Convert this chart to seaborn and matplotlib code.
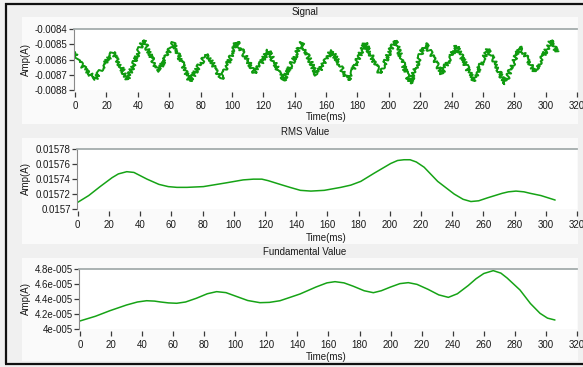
import matplotlib
matplotlib.use("Agg")
import matplotlib.pyplot as plt
from matplotlib.patches import Rectangle
from matplotlib.lines import Line2D
from matplotlib.ticker import FixedLocator, FixedFormatter
import pandas as pd
import seaborn as sns

# ---- data -------------------------------------------------------------
signal_t = [0, 1, 12.7, 24.0, 33.5, 43.5, 53.1, 62.7, 73.2, 83.9, 93.4, 103.0,
            114.7, 123.2, 132.8, 144.4, 154.0, 163.6, 174.2, 184.8, 194.4, 204.0,
            213.5, 223.1, 233.7, 243.2, 253.9, 263.4, 274.1, 283.6, 293.2, 303.8, 307.0]
signal_amp = [-0.00855, -0.00860, -0.00873, -0.00855, -0.00873, -0.00847, -0.00868,
              -0.00849, -0.00874, -0.00856, -0.00873, -0.00848, -0.00869, -0.00854,
              -0.00874, -0.00849, -0.00870, -0.00854, -0.00874, -0.00849, -0.00869,
              -0.00847, -0.00876, -0.00849, -0.00869, -0.00851, -0.00874, -0.00853,
              -0.00876, -0.00851, -0.00868, -0.00847, -0.00855]

rms_t = [0, 7, 14.3, 22, 26, 31.4, 36, 44.4, 52, 58, 63.5, 70, 80.5, 95, 106, 112.6,
         118, 122, 129.7, 136, 142.7, 149.4, 158, 168.6, 175, 181.4, 190, 200.6,
         205, 209.1, 213, 217, 222, 230.7, 241.3, 247, 252, 257, 262.7, 272, 276,
         280.9, 286, 290, 296.9, 306]
rms_amp = [0.015709, 0.015718, 0.015730, 0.015742, 0.015747, 0.015750, 0.015749,
           0.015740, 0.015733, 0.015730, 0.015729, 0.015729, 0.015730, 0.015735,
           0.015739, 0.015740, 0.015740, 0.015738, 0.015733, 0.015729, 0.015725,
           0.015724, 0.015725, 0.015729, 0.015732, 0.015737, 0.015748, 0.015761,
           0.015765, 0.015766, 0.015766, 0.015763, 0.015756, 0.015737, 0.015720,
           0.015713, 0.015710, 0.015711, 0.015715, 0.015721, 0.015723, 0.015724,
           0.015723, 0.015721, 0.015718, 0.015712]

fund_t = [0, 10, 19.3, 30, 37, 42.9, 48, 52, 57, 62.3, 68, 75, 82, 88, 94, 100,
          108, 115.9, 122, 128.8, 135, 141.7, 152, 159, 164.2, 170, 176, 183,
          188.9, 194, 200, 206, 211.4, 217, 224, 231, 237.2, 243, 250, 255, 260,
          266.1, 271, 275, 283.3, 290, 296.2, 301, 305.8]
fund_amp = [4.107e-5, 4.17e-5, 4.244e-5, 4.32e-5, 4.36e-5, 4.377e-5, 4.372e-5,
            4.36e-5, 4.348e-5, 4.343e-5, 4.36e-5, 4.41e-5, 4.47e-5, 4.498e-5,
            4.485e-5, 4.44e-5, 4.38e-5, 4.351e-5, 4.355e-5, 4.377e-5, 4.42e-5,
            4.467e-5, 4.56e-5, 4.615e-5, 4.631e-5, 4.615e-5, 4.57e-5, 4.51e-5,
            4.484e-5, 4.51e-5, 4.56e-5, 4.605e-5, 4.618e-5, 4.595e-5, 4.53e-5,
            4.455e-5, 4.422e-5, 4.47e-5, 4.58e-5, 4.67e-5, 4.74e-5, 4.778e-5,
            4.745e-5, 4.68e-5, 4.52e-5, 4.34e-5, 4.209e-5, 4.145e-5, 4.12e-5]

x_ticks = [0, 20, 40, 60, 80, 100, 120, 140, 160, 180, 200, 220, 240, 260, 280, 300, 320]

signal_ticks = [-0.0084, -0.0085, -0.0086, -0.0087, -0.0088]
signal_labels = ["-0.0084", "-0.0085", "-0.0086", "-0.0087", "-0.0088"]
rms_ticks = [0.01578, 0.01576, 0.01574, 0.01572, 0.0157]
rms_labels = ["0.01578", "0.01576", "0.01574", "0.01572", "0.0157"]
fund_ticks = [4.8e-5, 4.6e-5, 4.4e-5, 4.2e-5, 4.0e-5]
fund_labels = ["4.8e-005", "4.6e-005", "4.4e-005", "4.2e-005", "4e-005"]

titles = ["Signal", "RMS Value", "Fundamental Value"]

# ---- figure -----------------------------------------------------------
sns.set_style("white")
plt.rcParams["font.family"] = ["Liberation Sans", "DejaVu Sans"]
FS = 7.0
W, H = 583, 367
fig = plt.figure(figsize=(W / 100, H / 100), dpi=100, facecolor="#f0f0f0")


def px_rect(x0, y0, x1, y1, color):
    fig.patches.append(Rectangle((x0 / W, 1 - y1 / H), (x1 - x0) / W, (y1 - y0) / H,
                                 transform=fig.transFigure, facecolor=color,
                                 edgecolor="none", zorder=-10))


def px_line(xs, ys, color, lw):
    fig.lines.append(Line2D([x / W for x in xs], [1 - y / H for y in ys],
                            transform=fig.transFigure, color=color, lw=lw,
                            solid_capstyle="butt", zorder=5))


# panel bodies (lighter than the title strips)
px_rect(22, 17, 578, 124, "#fafafa")
px_rect(22, 138, 578, 244, "#fafafa")
px_rect(22, 258, 578, 361, "#fafafa")

# outer frame
px_line([5, 583], [3.5, 3.5], "#101010", 1.6)
px_line([5.5, 5.5], [3, 364], "#101010", 1.6)
px_line([5, 583], [363.5, 363.5], "#101010", 1.6)

# axes geometry in pixels: left spine x, value-axis top y, bottom y, xmin
geoms = [(73.5, 29.3, 90.0, -1.0), (77.0, 149.3, 209.0, -0.5), (79.0, 269.0, 329.0, -0.6)]
title_y = [12, 132, 252]
xlabel_y = [117, 238, 357]
series = [(signal_t, signal_amp, signal_ticks, signal_labels, 1.4),
          (rms_t, rms_amp, rms_ticks, rms_labels, 1.1),
          (fund_t, fund_amp, fund_ticks, fund_labels, 1.1)]

for i, ((lx, ty, by, xmin), (t, amp, yt, yl, lw)) in enumerate(zip(geoms, series)):
    ax = fig.add_axes([lx / W, 1 - by / H, (577 - lx) / W, (by - ty) / H])
    ax.set_zorder(1)
    ax.set_facecolor("white")
    df = pd.DataFrame({"Time(ms)": t, "Amp(A)": amp})
    sns.lineplot(data=df, x="Time(ms)", y="Amp(A)", ax=ax, color="#16a316",
                 lw=lw, estimator=None, sort=False)
    if i == 0:
        # measured current carries visible ripple on the trace
        ax.lines[0].set_sketch_params(scale=2.2, length=1.0, randomness=2.0)
        ax.lines[0].set_color("#0f9a0f")
    ax.set_xlim(xmin, 320)
    ax.set_ylim(min(yt), max(yt))

    ax.xaxis.set_major_locator(FixedLocator(x_ticks))
    ax.yaxis.set_major_locator(FixedLocator(yt))
    ax.yaxis.set_major_formatter(FixedFormatter(yl))

    for s in ("right", "bottom"):
        ax.spines[s].set_visible(False)
    ax.spines["bottom"].set_position(("outward", 1.5))
    ax.spines["top"].set_color("#a4acac")
    ax.spines["top"].set_linewidth(1.3)
    ax.spines["left"].set_color("#8a8a8a")
    ax.spines["left"].set_linewidth(0.8)

    ax.tick_params(axis="both", which="major", direction="out", length=3.6,
                   width=0.9, color="#3a3a3a", labelsize=FS, labelcolor="#1a1a1a",
                   bottom=True, left=True)
    ax.tick_params(axis="x", pad=3.0)
    ax.tick_params(axis="y", pad=0.8)

    ax.set_xlabel("")
    ax.set_ylabel("Amp(A)", fontsize=FS, color="#1a1a1a")
    ax.yaxis.set_label_coords((30.5 - lx) / (577 - lx), 0.51)

    fig.text(326 / W, 1 - xlabel_y[i] / H, "Time(ms)", ha="center", va="center",
             fontsize=FS, color="#1a1a1a", zorder=5)
    fig.text(305 / W, 1 - title_y[i] / H, titles[i], ha="center", va="center",
             fontsize=FS, color="#1a1a1a", zorder=5)

fig.savefig("out.png", dpi=100, facecolor=fig.get_facecolor())
